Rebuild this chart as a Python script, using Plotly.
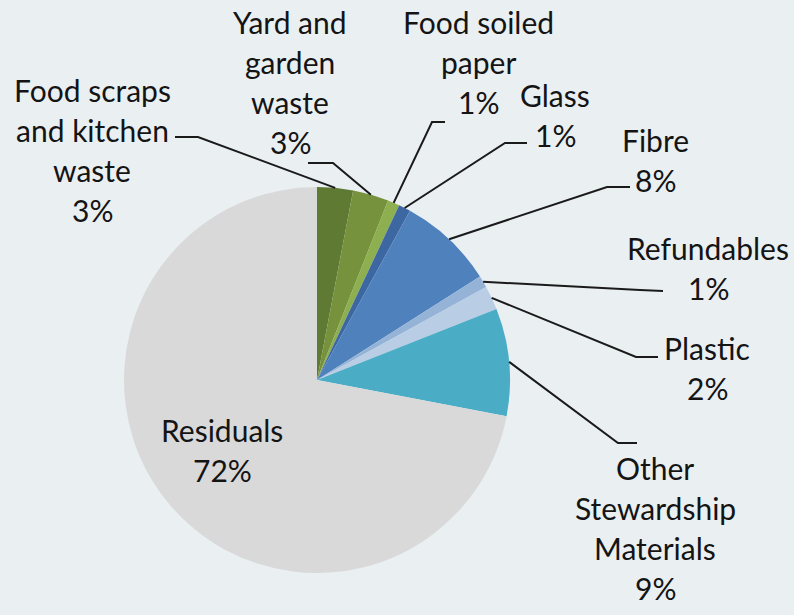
import math
import plotly.graph_objects as go

# waste composition (share of total, %)
categories = ['Food scraps and kitchen waste', 'Yard and garden waste', 'Food soiled paper',
              'Glass', 'Fibre', 'Refundables', 'Plastic', 'Other Stewardship Materials', 'Residuals']
shares = [3, 3, 1, 1, 8, 1, 2, 9, 72]
colors = ['#5F7A32', '#76923C', '#8EAF4F', '#3C67A0', '#4F81BD',
          '#95B3D7', '#B9CDE5', '#4BACC6', '#D9D9D9']

# label lines shown next to each slice
label_lines = [
    ['Food scraps', 'and kitchen', 'waste'],
    ['Yard and', 'garden', 'waste'],
    ['Food soiled', 'paper'],
    ['Glass'],
    ['Fibre'],
    ['Refundables'],
    ['Plastic'],
    ['Other', 'Stewardship', 'Materials'],
    ['Residuals'],
]

W, H = 794, 615
BG = '#EAEFF2'
CX, CY, R = 317, 380, 193  # pie centre / radius in pixels

# label placement (pixel): text centre x, first line y, line step
label_pos = [(92, 90), (290, 22), (478, 22), (555, 95), (655, 140),
             (708, 248), (707, 348), (655, 468), (222, 430)]
# leader elbows (pixel): elbow point, end point (None for inside label)
leaders = [((198, 137), (175, 137)), ((333, 163), (308, 163)), ((432, 122), (445, 122)),
           ((505, 143), (527, 143)), ((607, 187), (630, 187)), ((640, 290), (663, 291)),
           ((636, 357), (658, 357)), ((618, 443), (637, 443)), None]
STEP = 40


def px(x):
    return x / W


def py(y):
    return 1 - y / H


fig = go.Figure(go.Pie(
    labels=categories,
    values=shares,
    sort=False,
    direction='clockwise',
    rotation=0,
    marker=dict(colors=colors, line=dict(width=0)),
    textinfo='none',
    hoverinfo='label+percent',
    domain=dict(x=[px(CX - R), px(CX + R)], y=[py(CY + R), py(CY - R)]),
    showlegend=False,
))

total = sum(shares)
cum = 0
font = dict(family='Lato, Carlito, sans-serif', size=30, color='#141414')
for i, v in enumerate(shares):
    mid = (cum + v / 2) / total * 2 * math.pi
    cum += v
    lines = label_lines[i] + ['%d%%' % round(v / total * 100)]
    lx, ly = label_pos[i]
    for k, t in enumerate(lines):
        fig.add_annotation(x=px(lx), y=py(ly + k * STEP), xref='paper', yref='paper',
                           text=t, showarrow=False, font=font,
                           xanchor='center', yanchor='middle')
    if leaders[i] is None:
        continue
    ex, ey = CX + R * math.sin(mid), CY - R * math.cos(mid)
    (bx, by), (tx, ty) = leaders[i]
    fig.add_shape(type='path', xref='paper', yref='paper',
                  path='M %f,%f L %f,%f L %f,%f' % (px(ex), py(ey), px(bx), py(by), px(tx), py(ty)),
                  line=dict(color='#1A1A1A', width=2))

fig.update_layout(
    width=W, height=H,
    margin=dict(l=0, r=0, t=0, b=0),
    paper_bgcolor=BG,
    plot_bgcolor=BG,
)

fig.write_html('out.html', config={'displayModeBar': False},
               post_script="document.body.style.margin='0';")
